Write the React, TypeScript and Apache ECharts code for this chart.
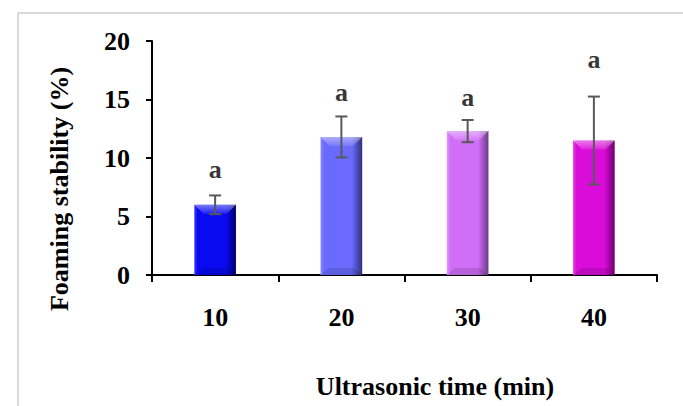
import React, { useEffect, useRef } from "react";
import * as echarts from "echarts";

const categories = ["10", "20", "30", "40"];
const means = [6.0, 11.8, 12.3, 11.5];
const errors = [0.8, 1.75, 0.95, 3.75];
const letters = ["a", "a", "a", "a"];
const letterY = [9.0, 15.6, 15.15, 18.45];
const yTicks = { min: 0, max: 20, interval: 5 };
const baseColors = ["#0a0af2", "#6a6aff", "#d06ef8", "#d90cd9"];
const edgeLight = ["#3a3aff", "#8a8aff", "#e09aff", "#e848e8"];
const edgeDark = ["#00006e", "#30307a", "#6e3a88", "#6e006e"];

const FONT = "'Liberation Serif', 'Times New Roman', serif";
const FS = 26;

export default function App() {
  const ref = useRef<HTMLDivElement>(null);
  useEffect(() => {
    if (!ref.current) return;
    const chart = echarts.init(ref.current, undefined, { renderer: "svg" });
    const barData = means.map((v, i) => ({
      value: v,
      itemStyle: {
        color: new echarts.graphic.LinearGradient(0, 0, 1, 0, [
          { offset: 0, color: edgeLight[i] },
          { offset: 0.08, color: baseColors[i] },
          { offset: 0.75, color: baseColors[i] },
          { offset: 1, color: edgeDark[i] },
        ]),
      },
    }));
    const errData = means.map((v, i) => [i, v - errors[i], v + errors[i]]);
    const bevelData = means.map((v, i) => [i, v]);
    const letterData = letterY.map((v, i) => [i, v]);
    chart.setOption({
      animation: false,
      backgroundColor: "#ffffff",
      grid: { left: 152, top: 41, right: 26, bottom: 131, containLabel: false },
      graphic: [
        {
          type: "polyline",
          shape: { points: [[18, 406], [18, 13], [683, 13]] },
          style: { stroke: "#d9d9d9", lineWidth: 2, fill: "none" },
          silent: true,
        },
        {
          type: "text",
          x: 59,
          y: 189,
          rotation: Math.PI / 2,
          style: {
            text: "Foaming stability (%)",
            font: `bold ${FS}px ${FONT}`,
            fill: "#000",
            align: "center",
            verticalAlign: "middle",
          },
        },
        {
          type: "text",
          x: 435,
          y: 386,
          style: {
            text: "Ultrasonic time (min)",
            font: `bold ${FS}px ${FONT}`,
            fill: "#000",
            align: "center",
            verticalAlign: "middle",
          },
        },
      ],
      xAxis: {
        type: "category",
        data: categories,
        axisLine: { lineStyle: { color: "#000", width: 2 } },
        axisTick: { show: true, length: 7, lineStyle: { color: "#000", width: 2 } },
        axisLabel: {
          color: "#000",
          fontFamily: FONT,
          fontWeight: "bold",
          fontSize: FS,
          margin: 29,
        },
        splitLine: { show: false },
      },
      yAxis: {
        type: "value",
        min: yTicks.min,
        max: yTicks.max,
        interval: yTicks.interval,
        axisLine: { show: true, lineStyle: { color: "#000", width: 2 } },
        axisTick: { show: true, length: 6, lineStyle: { color: "#000", width: 2 } },
        axisLabel: {
          color: "#000",
          fontFamily: FONT,
          fontWeight: "bold",
          fontSize: FS,
          margin: 22,
        },
        splitLine: { show: false },
      },
      series: [
        {
          type: "bar",
          data: barData,
          barWidth: "33%",
        },
        {
          type: "custom",
          data: bevelData,
          z: 4,
          silent: true,
          renderItem: (params: any, api: any) => {
            const x = api.value(0);
            const top = api.coord([x, api.value(1)]);
            const bottom = api.coord([x, 0]);
            const w = api.size([1, 0])[0] * 0.33;
            const l = top[0] - w / 2;
            const r = top[0] + w / 2;
            return {
              type: "group",
              children: [
                {
                  type: "polygon",
                  shape: {
                    points: [
                      [l, top[1]],
                      [r, top[1]],
                      [r - w * 0.22, top[1] + 9],
                      [l + w * 0.22, top[1] + 9],
                    ],
                  },
                  style: {
                    fill: new echarts.graphic.LinearGradient(0, 0, 0, 1, [
                      { offset: 0, color: "rgba(255,255,255,0.45)" },
                      { offset: 1, color: "rgba(255,255,255,0.1)" },
                    ]),
                  },
                },
                {
                  type: "polygon",
                  shape: {
                    points: [
                      [l, bottom[1]],
                      [r, bottom[1]],
                      [r - w * 0.2, bottom[1] - 7],
                      [l + w * 0.2, bottom[1] - 7],
                    ],
                  },
                  style: { fill: "rgba(0,0,0,0.12)" },
                },
              ],
            };
          },
        },
        {
          type: "custom",
          data: errData,
          z: 5,
          renderItem: (params: any, api: any) => {
            const x = api.value(0);
            const lo = api.coord([x, api.value(1)]);
            const hi = api.coord([x, api.value(2)]);
            const cap = 6;
            const style = { stroke: "#595959", lineWidth: 2 };
            return {
              type: "group",
              children: [
                { type: "line", shape: { x1: hi[0], y1: hi[1], x2: lo[0], y2: lo[1] }, style },
                { type: "line", shape: { x1: hi[0] - cap, y1: hi[1], x2: hi[0] + cap, y2: hi[1] }, style },
                { type: "line", shape: { x1: lo[0] - cap, y1: lo[1], x2: lo[0] + cap, y2: lo[1] }, style },
              ],
            };
          },
        },
        {
          type: "scatter",
          data: letterData,
          symbolSize: 0,
          z: 6,
          label: {
            show: true,
            position: "inside",
            formatter: (p: any) => letters[p.dataIndex],
            color: "#000",
            fontFamily: FONT,
            fontWeight: "bold",
            fontSize: FS,
          },
        },
      ],
    });
    return () => chart.dispose();
  }, []);
  return <div ref={ref} style={{ width: 683, height: 406, position: "absolute", left: 0, top: 0 }} />;
}
